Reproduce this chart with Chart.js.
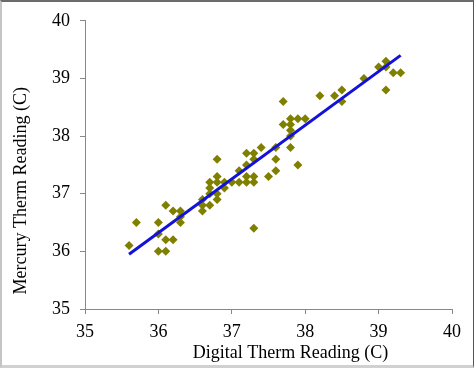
<!DOCTYPE html>
<html>
<head>
<meta charset="utf-8">
<script src="https://cdn.jsdelivr.net/npm/chart.js@4/dist/chart.umd.min.js"></script>
<style>
  html, body { margin: 0; padding: 0; background: #fff; }
  #frame { position: absolute; left: 0; top: 0; width: 474px; height: 368px; box-sizing: border-box;
           border-top: 2px solid #6b6b6b; border-left: 2px solid #c4c4c4; border-bottom: 3px solid #d0d0d0; border-right: 1px solid #555; }
  #wrap { position: absolute; left: 0; top: 0; width: 474px; height: 368px; }
</style>
</head>
<body>
<div id="frame"></div>
<div id="wrap"><canvas id="c" width="474" height="368"></canvas></div>
<script>
// Data
const digitalReading = [35.6,35.7,36.0,36.0,36.0,36.1,36.1,36.1,36.2,36.2,36.3,36.3,36.3,36.6,36.6,36.6,
  36.7,36.7,36.7,36.7,36.8,36.8,36.8,36.8,36.8,36.9,36.9,37.0,37.1,37.1,37.2,37.2,37.2,37.2,
  37.3,37.3,37.3,37.3,37.3,37.4,37.5,37.6,37.6,37.6,37.7,37.7,37.8,37.8,37.8,37.8,37.8,37.9,37.9,
  38.0,38.2,38.4,38.5,38.5,38.8,39.0,39.1,39.1,39.1,39.2,39.3];
const mercuryReading = [36.1,36.5,36.5,36.3,36.0,36.8,36.2,36.0,36.7,36.2,36.7,36.6,36.5,36.9,36.8,36.7,
  37.2,37.1,37.0,36.8,37.6,37.3,37.2,37.0,36.9,37.2,37.1,37.2,37.4,37.2,37.7,37.5,37.3,37.2,
  37.7,37.6,37.3,37.2,36.4,37.8,37.3,37.8,37.6,37.4,38.6,38.2,38.3,38.2,38.1,38.0,37.8,38.3,37.5,
  38.3,38.7,38.7,38.8,38.6,39.0,39.2,39.3,39.2,38.8,39.1,39.1];
const trendX = [35.6, 39.3];
const trendY = [35.95, 39.4];
const axisTicks = [35, 36, 37, 38, 39, 40];
const xTitle = 'Digital Therm Reading (C)';
const yTitle = 'Mercury Therm Reading (C)';

const FONT = '"Liberation Serif", "Times New Roman", serif';

const titlePlugin = {
  id: 'titles',
  afterDraw(chart) {
    const ctx = chart.ctx;
    ctx.save();
    ctx.fillStyle = '#000';
    ctx.font = '18px ' + FONT;
    ctx.textAlign = 'center';
    ctx.textBaseline = 'middle';
    const xs = chart.scales.x;
    ctx.fillText(xTitle, xs.getPixelForValue(37.8), 353);
    ctx.translate(21, chart.scales.y.getPixelForValue(37.05));
    ctx.rotate(-Math.PI / 2);
    ctx.fillText(yTitle, 0, 0);
    ctx.restore();
  }
};

new Chart(document.getElementById('c'), {
  type: 'scatter',
  data: {
    datasets: [
      {
        label: 'Readings',
        data: digitalReading.map((x, i) => ({ x: x, y: mercuryReading[i] })),
        pointStyle: 'rectRot',
        pointRadius: 4.5,
        pointBackgroundColor: '#808000',
        pointBorderColor: '#808000',
        pointBorderWidth: 0,
        order: 2
      },
      {
        type: 'line',
        label: 'Trend',
        data: trendX.map((x, i) => ({ x: x, y: trendY[i] })),
        borderColor: '#1212d8',
        borderWidth: 3,
        pointRadius: 0,
        showLine: true,
        fill: false,
        order: 1
      }
    ]
  },
  options: {
    responsive: false,
    animation: false,
    devicePixelRatio: 1,
    layout: { padding: { top: 17, right: 22, left: 0, bottom: 0 } },
    plugins: { legend: { display: false }, tooltip: { enabled: false } },
    scales: {
      x: {
        type: 'linear', min: 35, max: 40,
        afterBuildTicks: (s) => { s.ticks = axisTicks.map(v => ({ value: v })); },
        afterFit: (s) => { s.height = 368 - 309; },
        grid: { drawOnChartArea: false, drawTicks: true, tickLength: 5, color: '#888' },
        border: { display: true, color: '#888', width: 1 },
        ticks: { color: '#000', font: { family: FONT, size: 18 }, padding: 7, maxRotation: 0 }
      },
      y: {
        type: 'linear', min: 35, max: 40,
        afterBuildTicks: (s) => { s.ticks = axisTicks.map(v => ({ value: v })); },
        afterFit: (s) => { s.width = 85; },
        grid: { drawOnChartArea: false, drawTicks: true, tickLength: 5, color: '#888' },
        border: { display: true, color: '#888', width: 1 },
        ticks: { color: '#000', font: { family: FONT, size: 18 }, padding: 10 }
      }
    }
  },
  plugins: [titlePlugin]
});
</script>
</body>
</html>
